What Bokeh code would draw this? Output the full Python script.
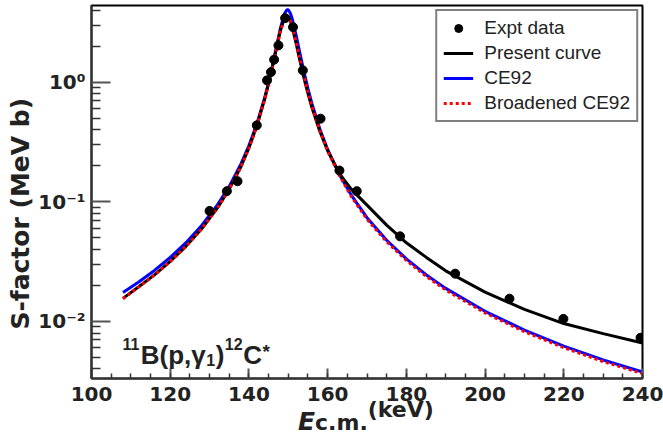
import math
from bokeh.plotting import figure
from bokeh.layouts import column
from bokeh.models import Legend, LegendItem, Label, FixedTicker, ColumnDataSource, Div
from bokeh.embed import file_html
from bokeh.resources import INLINE

# ---- data ----
E_curve = [108, 112, 116, 120, 124, 128, 132, 135, 138, 140, 142, 144, 145, 146, 147, 148,
           149, 149.6, 149.8, 150, 150.5, 151, 152, 153, 154, 155, 156, 158, 160, 163, 166,
           170, 175, 180, 185, 190, 200, 210, 220, 230, 240]
S_present = [0.0156, 0.0195, 0.0245, 0.0318, 0.0425, 0.0595, 0.089, 0.128, 0.198, 0.283, 0.432,
             0.725, 0.98, 1.365, 1.94, 2.72, 3.44, 3.62, 3.61, 3.54, 3.28, 2.90, 2.11, 1.50, 1.08,
             0.805, 0.615, 0.39, 0.268, 0.172, 0.128, 0.094, 0.064, 0.0455, 0.0345, 0.0265,
             0.0176, 0.0126, 0.0096, 0.0079, 0.0066]
S_ce92 = [0.0175, 0.0214, 0.0267, 0.0343, 0.0456, 0.0636, 0.0946, 0.135, 0.209, 0.296, 0.449,
          0.745, 1.00, 1.395, 1.99, 2.84, 3.74, 4.03, 4.06, 4.04, 3.81, 3.41, 2.48, 1.73, 1.22,
          0.887, 0.668, 0.410, 0.275, 0.169, 0.114, 0.0738, 0.0478, 0.0334, 0.0246, 0.0189,
          0.01215, 0.00846, 0.00622, 0.00476, 0.00377]
S_broad = [0.0155, 0.0194, 0.0244, 0.0317, 0.0424, 0.0594, 0.0888, 0.128, 0.197, 0.282, 0.430,
           0.72, 0.97, 1.35, 1.92, 2.68, 3.38, 3.56, 3.56, 3.52, 3.30, 2.95, 2.17, 1.55, 1.12,
           0.83, 0.632, 0.398, 0.267, 0.166, 0.111, 0.0716, 0.0464, 0.0324, 0.0239, 0.0183,
           0.01178, 0.0082, 0.00603, 0.00462, 0.00366]

E_data = [130.0, 134.4, 137.1, 142.0, 144.6, 145.6, 146.4, 147.5, 149.2, 151.2, 153.7, 158.2,
          163.0, 167.4, 178.4, 192.4, 206.2, 219.9, 239.5]
S_data = [0.084, 0.123, 0.149, 0.437, 1.04, 1.22, 1.55, 2.04, 3.45, 2.90, 1.26, 0.497,
          0.183, 0.123, 0.0515, 0.0251, 0.0155, 0.0105, 0.0073]
dS_data = [0.007, 0.009, 0.011, 0.03, 0.07, 0.08, 0.10, 0.13, 0.22, 0.19, 0.08, 0.035,
           0.013, 0.009, 0.004, 0.002, 0.0012, 0.0009, 0.0006]

x_major = [100, 120, 140, 160, 180, 200, 220, 240]
y_major = [0.01, 0.1, 1]
y_labels = ["10\u207b\u00b2", "10\u207b\u00b9", "10\u2070"]

FONT = "DejaVu Sans"
TXT = "#222222"
W = 663

p = figure(width=W, height=412, y_axis_type="log",
           x_range=(100, 240), y_range=(0.00333, 4.4),
           output_backend="svg", toolbar_location=None,
           min_border_left=91, min_border_right=21, min_border_top=5, min_border_bottom=34)
p.xgrid.visible = False
p.ygrid.visible = False
p.outline_line_color = "black"
p.outline_line_width = 2
p.background_fill_color = "white"
p.border_fill_color = "white"

p.xaxis.ticker = FixedTicker(ticks=x_major, minor_ticks=list(range(100, 241, 5)))
yminor = [m * 10.0 ** e for e in (-3, -2, -1, 0) for m in range(2, 10)]
p.yaxis.ticker = FixedTicker(ticks=y_major, minor_ticks=yminor)
p.yaxis.major_label_overrides = {v: s for v, s in zip(y_major, y_labels)}

for ax in (p.xaxis, p.yaxis):
    ax.axis_line_width = 2
    ax.axis_line_color = "#333333"
    ax.major_tick_line_color = "#555555"
    ax.minor_tick_line_color = "#333333"
    ax.major_tick_line_width = 2
    ax.minor_tick_line_width = 1.5
    ax.major_tick_out = 0
    ax.minor_tick_out = 0
    ax.major_label_text_font = FONT
    ax.major_label_text_font_style = "bold"
    ax.major_label_text_font_size = "20px"
    ax.major_label_text_color = TXT
p.xaxis.major_tick_in = 10
p.xaxis.minor_tick_in = 5
p.xaxis.major_label_standoff = 8
p.yaxis.major_tick_in = 19
p.yaxis.minor_tick_in = 9
p.yaxis.major_label_standoff = 6
p.yaxis.axis_label = "S-factor (MeV b)" + "\u00a0" * 5
p.yaxis.axis_label_text_font = FONT
p.yaxis.axis_label_text_font_style = "bold"
p.yaxis.axis_label_text_font_size = "25px"
p.yaxis.axis_label_text_color = TXT
p.yaxis.axis_label_standoff = 0

src = ColumnDataSource(dict(E=E_curve, present=S_present, ce92=S_ce92, broad=S_broad))
r_blue = p.line("E", "ce92", source=src, line_color="#0000ff", line_width=3)
r_black = p.line("E", "present", source=src, line_color="black", line_width=3)
r_red = p.line("E", "broad", source=src, line_color="#ff0000", line_width=3, line_dash="3 3")

dsrc = ColumnDataSource(dict(E=E_data, S=S_data,
                             lo=[s - d for s, d in zip(S_data, dS_data)],
                             hi=[s + d for s, d in zip(S_data, dS_data)]))
p.segment("E", "lo", "E", "hi", source=dsrc, line_color="black", line_width=2)
r_pts = p.scatter("E", "S", source=dsrc, size=9, marker="circle", fill_color="black",
                  line_color="black")

legend = Legend(items=[
    LegendItem(label="Expt data", renderers=[r_pts]),
    LegendItem(label="Present curve", renderers=[r_black]),
    LegendItem(label="CE92", renderers=[r_blue]),
    LegendItem(label="Broadened CE92", renderers=[r_red]),
], location="top_right")
legend.label_text_font = "Liberation Sans"
legend.label_text_font_size = "19px"
legend.label_text_color = TXT
legend.border_line_color = "black"
legend.border_line_width = 2
legend.background_fill_alpha = 1
legend.glyph_width = 30
legend.glyph_height = 20
legend.label_height = 20
legend.label_standoff = 11
legend.spacing = 3
legend.padding = 6
legend.margin = 4
p.add_layout(legend)

# reaction label 11B(p,gamma1)12C*, built from pieces (text, font px, baseline shift px)
RFONT = "Liberation Sans"
em = {"1": 0.556, "2": 0.556, "B": 0.722, "(": 0.333, "p": 0.611, ",": 0.278,
      "\u03b3": 0.556, ")": 0.333, "C": 0.722, "*": 0.389}
pieces = [("11", 16, 11), ("B(p,\u03b3", 26, 0), ("1", 16, -5), (")", 26, 0),
          ("12", 16, 11), ("C", 26, 0), ("*", 19, 3)]
x0, y0 = 31, 24
for txt, fs, dy in pieces:
    p.add_layout(Label(x=x0, y=y0 + dy, x_units="screen", y_units="screen", text=txt,
                       text_font=RFONT, text_font_style="bold", text_font_size=f"{fs}px",
                       text_color=TXT, text_align="left", text_baseline="alphabetic"))
    x0 += sum(em[c] for c in txt) * fs + 0.5

# x title below the tick labels
xtitle = Div(
    text=('<div style="padding-left:298px; font-family:\'DejaVu Sans\'; font-weight:bold; '
          'font-size:22px; line-height:26px; color:#222222; white-space:nowrap;">'
          '<span style="font-size:25px; font-style:italic;">E</span>'
          '<span>c.m.</span>'
          '<span style="position:relative; top:-13px;">(keV)</span></div>'),
    width=W, height=26, margin=(-3, 0, 0, 0))

layout = column(p, xtitle, spacing=0)
open("out.html", "w").write(file_html(layout, INLINE))
